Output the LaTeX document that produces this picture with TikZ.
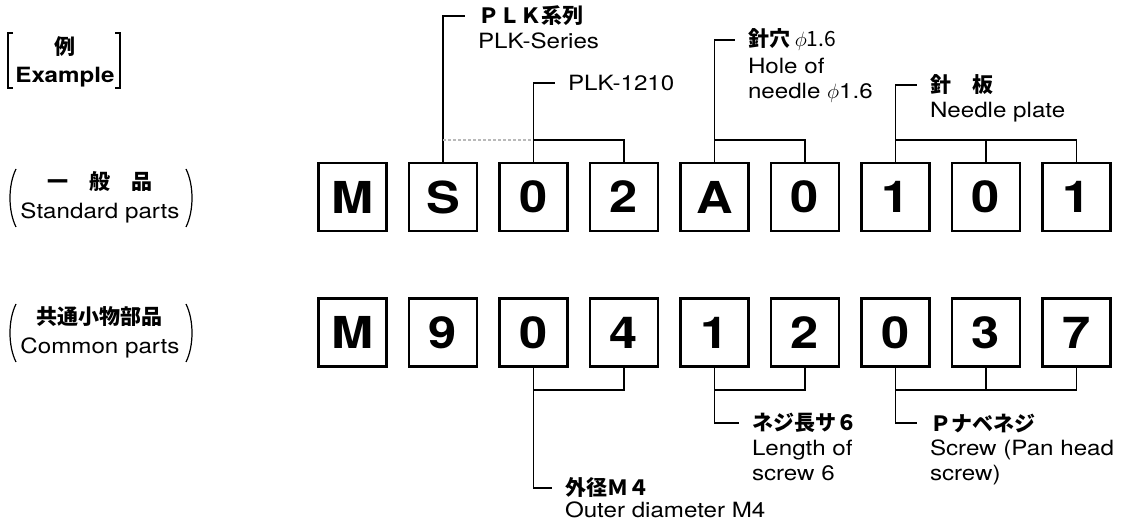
\documentclass[tikz,border=0pt]{standalone}
\usepackage{fontspec}
\setmainfont{TeX Gyre Heros}[FakeStretch=1.15]
\newfontfamily\jp{Noto Sans CJK JP}
\usetikzlibrary{positioning}
\newcommand{\boxfont}{\fontsize{44}{48}\selectfont\bfseries}
\newcommand{\lblfont}{\fontsize{21}{25}\selectfont}
\newcommand{\jpfont}{\fontsize{21}{25}\selectfont\jp\bfseries}

\begin{document}
\begin{tikzpicture}[
  x=1pt, y=-1pt,
  node distance=22.5pt,
  digit/.style={draw, line width=2.2pt, minimum size=68pt, inner sep=0pt, outer sep=0pt, font=\boxfont},
  lead/.style={draw, line width=1.5pt},
  dotl/.style={draw, line width=1.2pt, gray!55, dash pattern=on 2.5pt off 2.5pt},
  brk/.style={draw, line width=2pt},
  paren/.style={draw, line width=1.2pt},
  jplbl/.style={anchor=west, inner xsep=0pt, inner ysep=1pt, outer xsep=13pt, outer ysep=0pt, font=\jpfont},
  enlbl/.style={inner xsep=0pt, inner ysep=0pt, outer xsep=13pt, outer ysep=0pt, align=left, font=\lblfont},
  side/.style={inner sep=0pt, align=center}
]
  \useasboundingbox (0,0) rectangle (1121,526);

  % row labels on the left
  \node[side, font=\jpfont] (exJ) at (65,47) {例};
  \node[side, font=\lblfont\bfseries] (exE) at (65,77) {Example};
  \draw[brk] (13,33) -- (8,33) -- (8,88) -- (13,88);
  \draw[brk] (115,33) -- (120,33) -- (120,88) -- (115,88);

  \node[side, font=\jpfont] (stdJ) at (100,182) {一　般　品};
  \node[side, font=\lblfont] (stdE) at (100,213) {Standard parts};
  \draw[paren] (16,169) .. controls (8,185) and (8,211) .. (16,227);
  \draw[paren] (186,169) .. controls (194,185) and (194,211) .. (186,227);

  \node[side, font=\jpfont] (comJ) at (99,317) {共通小物部品};
  \node[side, font=\lblfont] (comE) at (100,348) {Common parts};
  \draw[paren] (16,304) .. controls (8,320) and (8,346) .. (16,362);
  \draw[paren] (186,304) .. controls (194,320) and (194,346) .. (186,362);

  % standard part number
  \node[digit] (s1) at (352.5,197) {M};
  \node[digit] (s2) [right=of s1] {S};
  \node[digit] (s3) [right=of s2] {0};
  \node[digit] (s4) [right=of s3] {2};
  \node[digit] (s5) [right=of s4] {A};
  \node[digit] (s6) [right=of s5] {0};
  \node[digit] (s7) [right=of s6] {1};
  \node[digit] (s8) [right=of s7] {0};
  \node[digit] (s9) [right=of s8] {1};

  % common part number
  \node[digit] (c1) at (352.5,332.5) {M};
  \node[digit] (c2) [right=of c1] {9};
  \node[digit] (c3) [right=of c2] {0};
  \node[digit] (c4) [right=of c3] {4};
  \node[digit] (c5) [right=of c4] {1};
  \node[digit] (c6) [right=of c5] {2};
  \node[digit] (c7) [right=of c6] {0};
  \node[digit] (c8) [right=of c7] {3};
  \node[digit] (c9) [right=of c8] {7};

  % labels above
  \node[jplbl] (serJ) at (465,16) {ＰＬＫ系列};
  \node[enlbl] (serE) [below right=6pt and 0pt of serJ.south west] {PLK-Series};
  \node[enlbl, anchor=west] (modE) at (555,83) {PLK-1210};
  \node[jplbl] (holeJ) at (735,40) {針穴\ {\lblfont\mdseries$\phi$1.6}};
  \node[enlbl] (holeE) [below right=6pt and 0pt of holeJ.south west] {Hole of\\needle $\phi$1.6};
  \node[jplbl] (plateJ) at (917,85) {針　板};
  \node[enlbl] (plateE) [below right=6pt and 0pt of plateJ.south west] {Needle plate};

  % labels below
  \node[jplbl] (lenJ) at (739,423) {ネジ長サ６};
  \node[enlbl] (lenE) [below right=6pt and 0pt of lenJ.south west] {Length of\\screw 6};
  \node[jplbl] (scrJ) at (917,423) {Ｐナベネジ};
  \node[enlbl] (scrE) [below right=6pt and 0pt of scrJ.south west] {Screw (Pan head\\screw)};
  \node[jplbl] (diaJ) at (552,488) {外径Ｍ４};
  \node[enlbl] (diaE) [below right=3pt and 0pt of diaJ.south west] {Outer diameter M4};

  % leaders, standard parts
  \coordinate (barA) at (0,140);
  \draw[lead] (s2.north) |- (serJ.west);
  \draw[dotl] (s2.north |- barA) -- (s3.north |- barA);
  \draw[lead] (s3.north) |- (modE.west);
  \draw[lead] (s4.north) |- (s3.north |- barA);
  \draw[lead] (s5.north) |- (holeJ.west);
  \draw[lead] (s6.north) |- (s5.north |- barA);
  \draw[lead] (s7.north) |- (plateJ.west);
  \draw[lead] (s9.north) |- (s7.north |- barA);
  \draw[lead] (s8.north) -- (s8.north |- barA);

  % leaders, common parts
  \coordinate (barB) at (0,390);
  \draw[lead] (c3.south) |- (diaJ.west);
  \draw[lead] (c4.south) |- (c3.south |- barB);
  \draw[lead] (c5.south) |- (lenJ.west);
  \draw[lead] (c6.south) |- (c5.south |- barB);
  \draw[lead] (c7.south) |- (scrJ.west);
  \draw[lead] (c9.south) |- (c7.south |- barB);
  \draw[lead] (c8.south) -- (c8.south |- barB);
\end{tikzpicture}
\end{document}
